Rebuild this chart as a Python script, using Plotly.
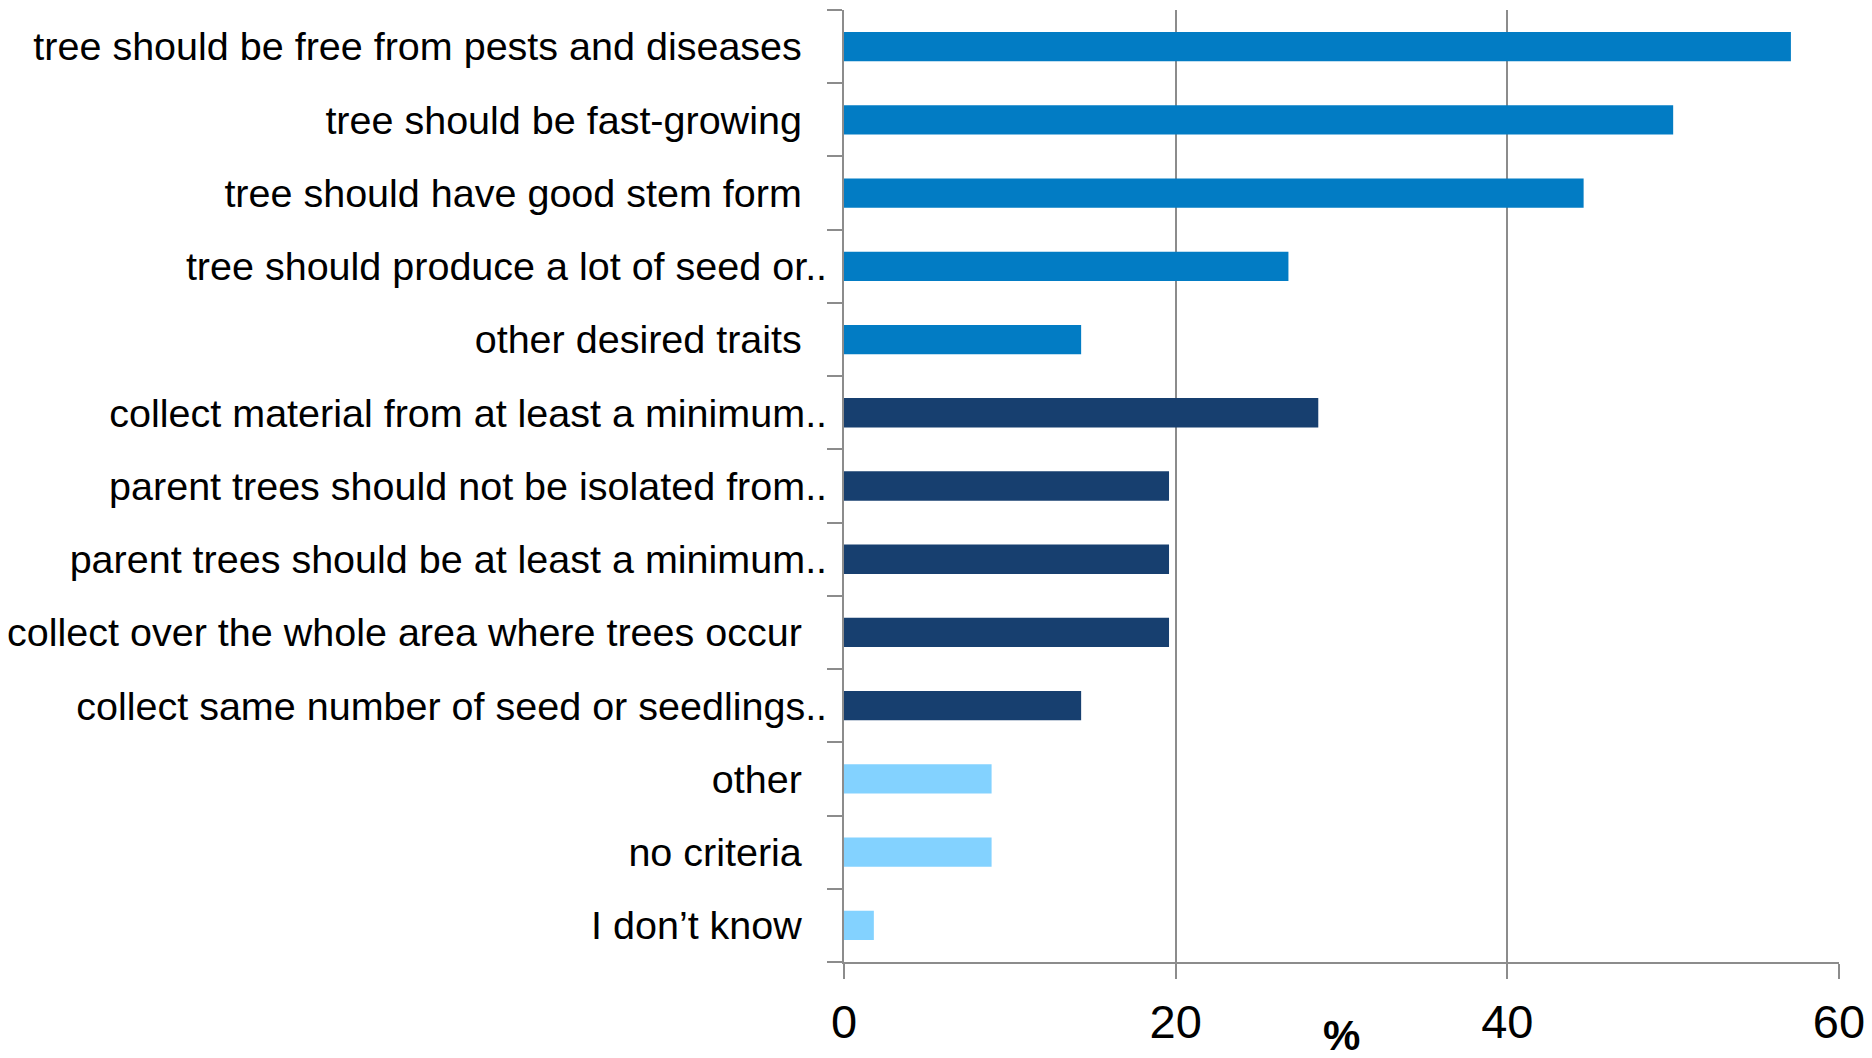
import plotly.graph_objects as go

# Criteria used when selecting parent trees (% of respondents)
criteria = [
    "tree should be free from pests and diseases",
    "tree should be fast-growing",
    "tree should have good stem form",
    "tree should produce a lot of seed or..",
    "other desired traits",
    "collect material from at least a minimum..",
    "parent trees should not be isolated from..",
    "parent trees should be at least a minimum..",
    "collect over the whole area where trees occur",
    "collect same number of seed or seedlings..",
    "other",
    "no criteria",
    "I don\u2019t know",
]
percent = [57.1, 50.0, 44.6, 26.8, 14.3, 28.6, 19.6, 19.6, 19.6, 14.3, 8.9, 8.9, 1.8]
group = ["trait", "trait", "trait", "trait", "trait",
         "genetic", "genetic", "genetic", "genetic", "genetic",
         "none", "none", "none"]
x_ticks = [0, 20, 40, 60]

group_colors = {"trait": "#027CC4", "genetic": "#173F6F", "none": "#83D2FF"}
bar_colors = [group_colors[g] for g in group]

# labels that are not truncated sit a little further from the axis
tick_text = [c if c.endswith("..") else c + "\u00a0\u00a0\u200a" for c in criteria]

FONT = "Liberation Sans, Arial, sans-serif"
GRID = "#8c8c8c"

fig = go.Figure(
    go.Bar(
        x=percent,
        y=criteria,
        orientation="h",
        marker=dict(color=bar_colors, line=dict(width=0)),
        hoverinfo="x+y",
    )
)

fig.update_layout(
    width=1872,
    height=1058,
    margin=dict(l=844, r=33, t=10, b=96, autoexpand=False),
    paper_bgcolor="white",
    plot_bgcolor="white",
    bargap=0.6,
    showlegend=False,
    font=dict(family=FONT, color="black"),
)

fig.update_xaxes(
    range=[0, 60],
    tickvals=x_ticks,
    ticktext=[str(v) for v in x_ticks],
    showgrid=True,
    gridcolor=GRID,
    gridwidth=1.5,
    zeroline=False,
    showline=True,
    linecolor=GRID,
    linewidth=2,
    ticks="outside",
    ticklen=15,
    tickwidth=1.5,
    tickcolor=GRID,
    tickfont=dict(size=47, family=FONT),
    ticklabelstandoff=3,
    automargin=False,
)

fig.update_yaxes(
    categoryorder="array",
    categoryarray=criteria,
    autorange="reversed",
    tickvals=criteria,
    ticktext=tick_text,
    showgrid=False,
    showline=True,
    linecolor=GRID,
    linewidth=2,
    ticks="outside",
    tickson="boundaries",
    ticklen=15,
    tickwidth=2,
    tickcolor=GRID,
    tickfont=dict(size=39.5, family=FONT),
    ticklabelstandoff=7,
    automargin=False,
)

fig.add_annotation(
    text="<b>%</b>",
    xref="paper",
    yref="paper",
    x=0.5,
    y=-0.077,
    xanchor="center",
    yanchor="middle",
    showarrow=False,
    borderpad=0,
    font=dict(size=42, family=FONT, color="black"),
)

fig.write_html("out.html")
